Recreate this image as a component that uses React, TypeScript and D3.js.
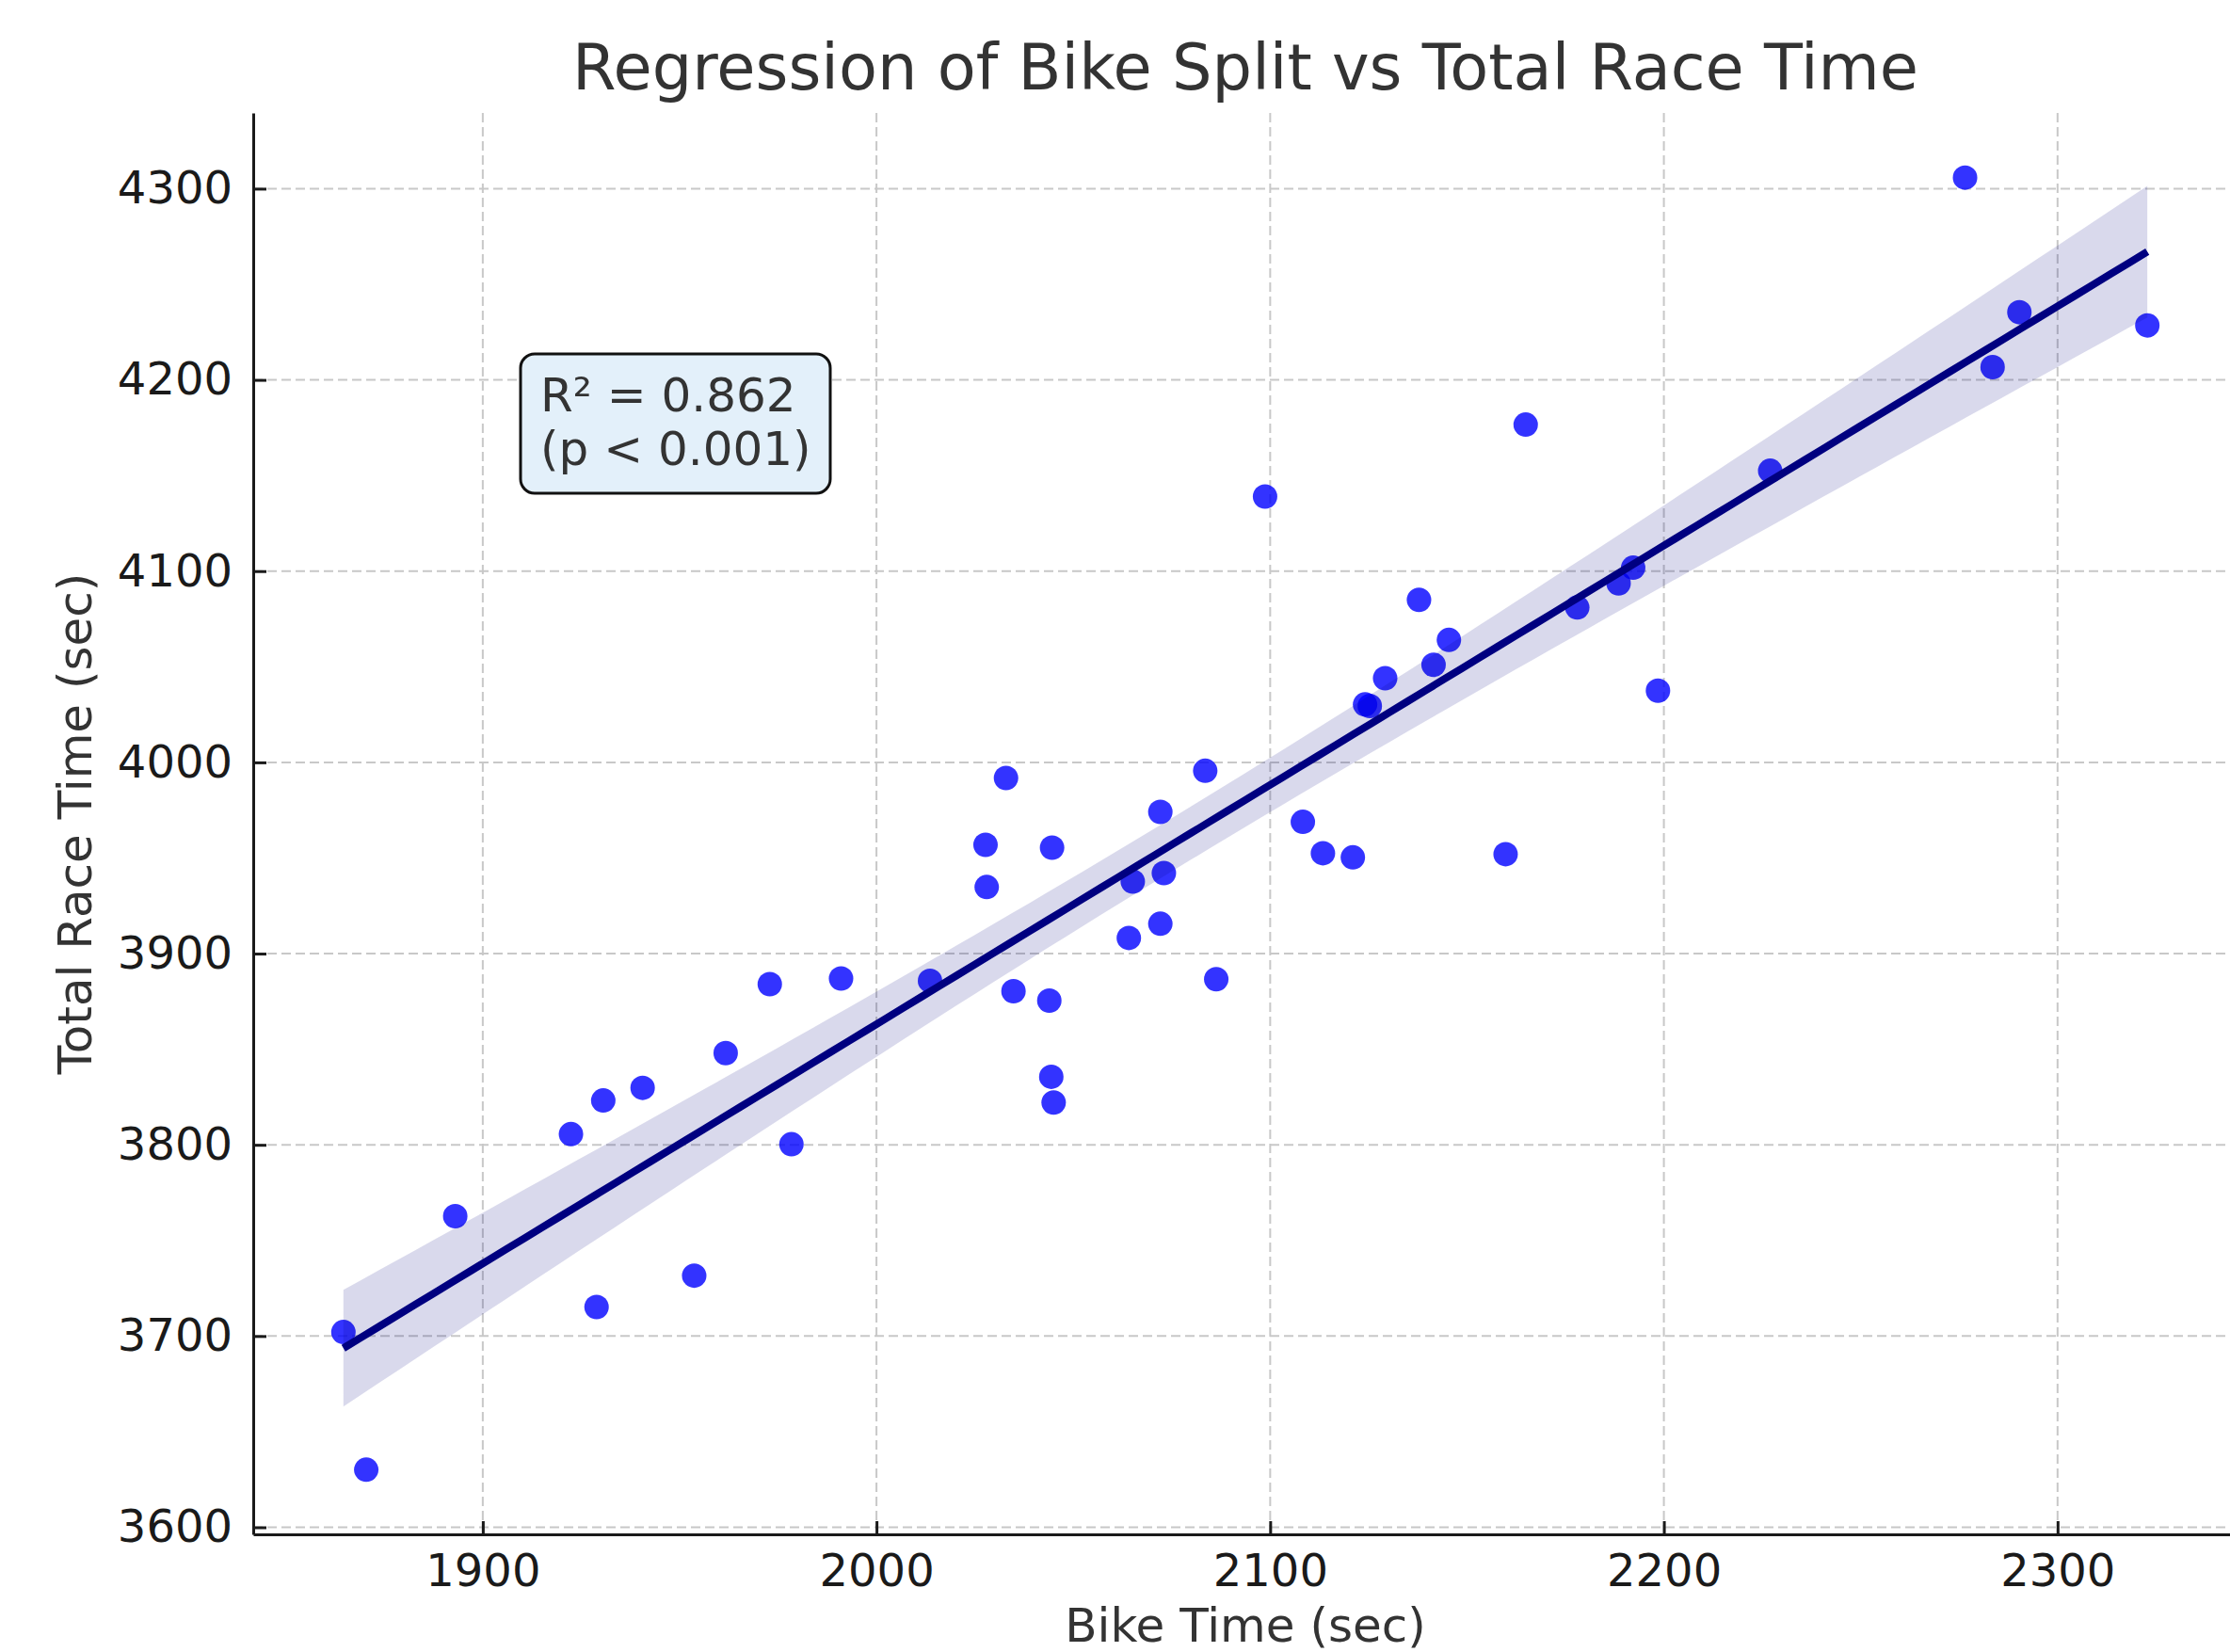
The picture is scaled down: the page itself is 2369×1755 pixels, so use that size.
import { useEffect, useRef } from "react";
import * as d3 from "d3";

// Bike split (sec) and total race time (sec)
const bikeTimes = [
  1864.6, 1870.4, 1893.0, 1922.4, 1928.9, 1930.6, 1940.6, 1953.7, 1961.7, 1972.9,
  1978.4, 1991.0, 2013.6, 2027.7, 2028.0, 2032.9, 2034.8, 2043.9, 2044.6, 2044.4,
  2045.0, 2064.1, 2065.1, 2072.1, 2072.1, 2073.0, 2083.5, 2086.3, 2098.7, 2108.3,
  2113.4, 2121.0, 2124.1, 2125.3, 2129.2, 2137.8, 2141.5, 2145.4, 2159.8, 2164.9,
  2178.0, 2188.5, 2192.2, 2198.5, 2227.0, 2276.5, 2283.5, 2290.3, 2322.8,
];
const raceTimes = [
  3702.1, 3630.1, 3762.7, 3805.6, 3715.2, 3823.2, 3829.8, 3731.6, 3848.0, 3884.0,
  3800.3, 3887.0, 3885.8, 3956.9, 3934.8, 3991.8, 3880.3, 3875.4, 3955.4, 3835.6,
  3822.1, 3908.2, 3937.7, 3974.1, 3915.6, 3942.1, 3995.6, 3886.6, 4139.0, 3968.9,
  3952.5, 3950.3, 4030.3, 4029.5, 4044.0, 4085.0, 4051.0, 4064.0, 3952.0, 4176.6,
  4081.0, 4093.6, 4101.8, 4037.5, 4152.5, 4305.8, 4206.7, 4235.4, 4228.5,
];
const xTicks = [1900, 2000, 2100, 2200, 2300];
const yTicks = [3600, 3700, 3800, 3900, 4000, 4100, 4200, 4300];
const statLines = ["R² = 0.862", "(p < 0.001)"];

const W = 2369;
const H = 1755;
const margin = { top: 120, right: -8, bottom: 125, left: 269 };
const font = "'DejaVu Sans', sans-serif";

export default function App() {
  const ref = useRef<SVGSVGElement | null>(null);

  useEffect(() => {
    const svg = d3.select(ref.current);
    svg.selectAll("*").remove();

    const iw = W - margin.left - margin.right;
    const ih = H - margin.top - margin.bottom;

    // matplotlib-style 5% padding around the data
    const [x0, x1] = d3.extent(bikeTimes) as [number, number];
    const [y0, y1] = d3.extent(raceTimes) as [number, number];
    const px = (x1 - x0) * 0.05;
    const py = (y1 - y0) * 0.05;

    const x = d3.scaleLinear().domain([x0 - px, x1 + px]).range([0, iw]);
    const y = d3.scaleLinear().domain([y0 - py, y1 + py]).range([ih, 0]);

    // least squares fit with a confidence band of the mean
    const n = bikeTimes.length;
    const mx = d3.mean(bikeTimes) as number;
    const my = d3.mean(raceTimes) as number;
    let sxx = 0;
    let sxy = 0;
    bikeTimes.forEach((v, i) => {
      sxx += (v - mx) ** 2;
      sxy += (v - mx) * (raceTimes[i] - my);
    });
    const slope = sxy / sxx;
    const icpt = my - slope * mx;
    let sse = 0;
    bikeTimes.forEach((v, i) => {
      sse += (raceTimes[i] - (icpt + slope * v)) ** 2;
    });
    const s = Math.sqrt(sse / (n - 2));
    const tcrit = 1.75; // bootstrap band in the original is a bit tighter than the t interval
    const grid = d3.range(0, 101).map((k) => x0 + ((x1 - x0) * k) / 100);
    const band = grid.map((gx) => {
      const yh = icpt + slope * gx;
      const se = s * Math.sqrt(1 / n + (gx - mx) ** 2 / sxx);
      return { gx, yh, lo: yh - tcrit * se, hi: yh + tcrit * se };
    });

    const g = svg.append("g").attr("transform", `translate(${margin.left},${margin.top})`);

    // grid
    g.append("g")
      .selectAll("line")
      .data(xTicks)
      .join("line")
      .attr("x1", (d) => x(d))
      .attr("x2", (d) => x(d))
      .attr("y1", 0)
      .attr("y2", ih)
      .attr("stroke", "#c8c8c8")
      .attr("stroke-width", 2)
      .attr("stroke-dasharray", "10,5");
    g.append("g")
      .selectAll("line")
      .data(yTicks)
      .join("line")
      .attr("x1", 0)
      .attr("x2", iw)
      .attr("y1", (d) => y(d))
      .attr("y2", (d) => y(d))
      .attr("stroke", "#c8c8c8")
      .attr("stroke-width", 2)
      .attr("stroke-dasharray", "10,5");

    // points
    g.append("g")
      .selectAll("circle")
      .data(bikeTimes)
      .join("circle")
      .attr("cx", (d) => x(d))
      .attr("cy", (d, i) => y(raceTimes[i]))
      .attr("r", 13)
      .attr("fill", "blue")
      .attr("fill-opacity", 0.8);

    // confidence band
    const area = d3
      .area<{ gx: number; lo: number; hi: number }>()
      .x((d) => x(d.gx))
      .y0((d) => y(d.lo))
      .y1((d) => y(d.hi));
    g.append("path").datum(band).attr("d", area).attr("fill", "navy").attr("fill-opacity", 0.15);

    // regression line
    const line = d3
      .line<{ gx: number; yh: number }>()
      .x((d) => x(d.gx))
      .y((d) => y(d.yh));
    g.append("path")
      .datum(band)
      .attr("d", line)
      .attr("fill", "none")
      .attr("stroke", "navy")
      .attr("stroke-width", 8);

    // axes (ticks pointing inwards)
    const fmt = d3.format("d");
    const xAxis = g
      .append("g")
      .attr("transform", `translate(0,${ih})`)
      .call(d3.axisBottom(x).tickValues(xTicks).tickFormat(fmt).tickSizeInner(-14).tickSizeOuter(0));
    const yAxis = g
      .append("g")
      .call(d3.axisLeft(y).tickValues(yTicks).tickFormat(fmt).tickSizeInner(-14).tickSizeOuter(0).tickPadding(22));
    [xAxis, yAxis].forEach((a) => {
      a.select(".domain").attr("stroke", "#1a1a1a").attr("stroke-width", 3);
      a.selectAll(".tick line").attr("stroke", "#1a1a1a").attr("stroke-width", 3);
      a.selectAll(".tick text")
        .attr("font-family", font)
        .attr("font-size", 48)
        .attr("fill", "#1a1a1a");
    });
    xAxis.selectAll(".tick text").attr("dy", null).attr("y", 55);

    // stats box
    const box = g.append("g");
    box.append("rect")
      .attr("x", 553 - margin.left)
      .attr("y", 376 - margin.top)
      .attr("width", 329)
      .attr("height", 148)
      .attr("rx", 15)
      .attr("fill", "#e3f0fa")
      .attr("stroke", "#111")
      .attr("stroke-width", 3);
    box.selectAll("text")
      .data(statLines)
      .join("text")
      .attr("x", 574 - margin.left)
      .attr("y", (d, i) => 437 - margin.top + i * 57)
      .attr("font-family", font)
      .attr("font-size", 50)
      .attr("fill", "#333")
      .text((d) => d);

    // titles
    svg.append("text")
      .attr("x", margin.left + iw / 2)
      .attr("y", 95)
      .attr("text-anchor", "middle")
      .attr("font-family", font)
      .attr("font-size", 67)
      .attr("fill", "#333")
      .text("Regression of Bike Split vs Total Race Time");
    svg.append("text")
      .attr("x", margin.left + iw / 2)
      .attr("y", 1744)
      .attr("text-anchor", "middle")
      .attr("font-family", font)
      .attr("font-size", 50)
      .attr("fill", "#333")
      .text("Bike Time (sec)");
    svg.append("text")
      .attr("transform", `translate(97,${margin.top + ih / 2}) rotate(-90)`)
      .attr("text-anchor", "middle")
      .attr("font-family", font)
      .attr("font-size", 50)
      .attr("fill", "#333")
      .text("Total Race Time (sec)");
  }, []);

  return (
    <div style={{ position: "absolute", left: 0, top: 0 }}>
      <svg ref={ref} width={W} height={H} style={{ display: "block", background: "#fff" }} />
    </div>
  );
}
